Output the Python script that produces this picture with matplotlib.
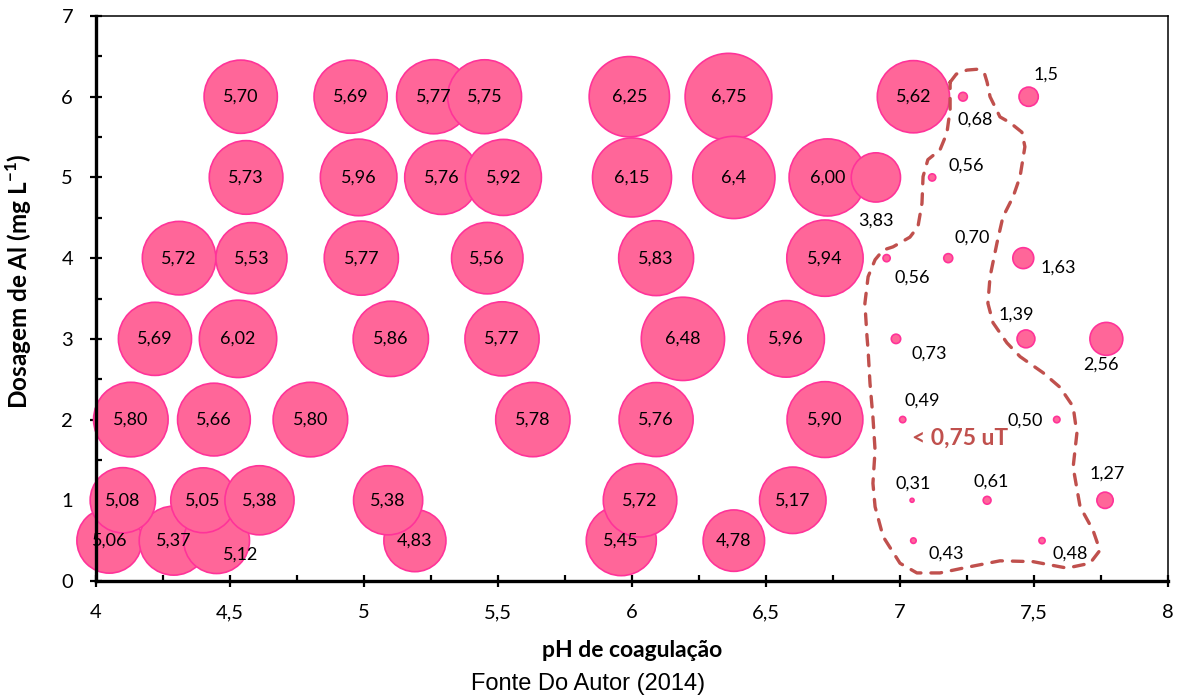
import matplotlib.pyplot as plt
from matplotlib.ticker import MultipleLocator, FuncFormatter

plt.rcParams['font.family'] = ['Lato', 'DejaVu Sans']
plt.rcParams['mathtext.fontset'] = 'custom'
plt.rcParams['mathtext.rm'] = 'Lato'
plt.rcParams['mathtext.bf'] = 'Lato:bold'

# pH de coagulação, dosagem de Al e turbidez remanescente (uT), por linha de dosagem
ph = [4.05, 4.29, 4.45, 5.19, 5.96, 6.38, 7.05, 7.53,
      4.10, 4.40, 4.61, 5.09, 6.03, 6.60, 7.045, 7.325, 7.765,
      4.13, 4.44, 4.80, 5.63, 6.09, 6.72, 7.01, 7.585,
      4.22, 4.53, 5.10, 5.515, 6.19, 6.575, 6.985, 7.47, 7.77,
      4.31, 4.58, 4.99, 5.46, 6.09, 6.72, 6.95, 7.18, 7.46,
      4.54, 4.95, 5.26, 5.45, 5.99, 6.36, 7.05, 7.235, 7.48,
      4.56, 4.98, 5.29, 5.52, 6.00, 6.38, 6.73, 6.91, 7.12]
dose = [0.5] * 8 + [1] * 9 + [2] * 8 + [3] * 9 + [4] * 9 + [6] * 9 + [5] * 9
turb = [5.06, 5.37, 5.12, 4.83, 5.45, 4.78, 0.43, 0.48,
        5.08, 5.05, 5.38, 5.38, 5.72, 5.17, 0.31, 0.61, 1.27,
        5.80, 5.66, 5.80, 5.78, 5.76, 5.90, 0.49, 0.50,
        5.69, 6.02, 5.86, 5.77, 6.48, 5.96, 0.73, 1.39, 2.56,
        5.72, 5.53, 5.77, 5.56, 5.83, 5.94, 0.56, 0.70, 1.63,
        5.70, 5.69, 5.77, 5.75, 6.25, 6.75, 5.62, 0.68, 1.5,
        5.73, 5.96, 5.76, 5.92, 6.15, 6.4, 6.00, 3.83, 0.56]
labels = ['5,06', '5,37', '5,12', '4,83', '5,45', '4,78', '0,43', '0,48',
          '5,08', '5,05', '5,38', '5,38', '5,72', '5,17', '0,31', '0,61', '1,27',
          '5,80', '5,66', '5,80', '5,78', '5,76', '5,90', '0,49', '0,50',
          '5,69', '6,02', '5,86', '5,77', '6,48', '5,96', '0,73', '1,39', '2,56',
          '5,72', '5,53', '5,77', '5,56', '5,83', '5,94', '0,56', '0,70', '1,63',
          '5,70', '5,69', '5,77', '5,75', '6,25', '6,75', '5,62', '0,68', '1,5',
          '5,73', '5,96', '5,76', '5,92', '6,15', '6,4', '6,00', '3,83', '0,56']

# contorno da região < 0,75 uT
outline_x = [7.187, 7.21, 7.25, 7.287, 7.315, 7.325, 7.336, 7.373, 7.410, 7.455, 7.466,
             7.448, 7.422, 7.384, 7.362, 7.336, 7.328, 7.347, 7.399, 7.448, 7.534,
             7.597, 7.646, 7.660, 7.646, 7.672, 7.720, 7.746, 7.709, 7.623, 7.496,
             7.373, 7.250, 7.149, 7.063, 7.000, 6.937, 6.907, 6.899, 6.907, 6.899,
             6.888, 6.881, 6.877, 6.869, 6.881, 6.907, 6.937, 6.974, 7.037, 7.067,
             7.082, 7.086, 7.104, 7.149, 7.175, 7.187, 7.187]
outline_y = [6.18, 6.28, 6.33, 6.34, 6.29, 6.18, 6.00, 5.75, 5.68, 5.56, 5.38,
             5.01, 4.76, 4.51, 4.19, 3.77, 3.44, 3.20, 2.95, 2.78, 2.58,
             2.40, 2.16, 1.83, 1.41, 0.92, 0.63, 0.38, 0.22, 0.16, 0.24,
             0.25, 0.17, 0.10, 0.10, 0.22, 0.55, 0.92, 1.21, 1.62, 2.03,
             2.45, 2.86, 3.02, 3.44, 3.77, 3.98, 4.10, 4.14, 4.26, 4.39,
             4.68, 5.01, 5.22, 5.34, 5.55, 5.84, 6.18]

# deslocamento dos rótulos (px, y para cima)
offsets = {2: (24, -14), 6: (33, -13), 7: (28, -13),
           14: (1, 17), 15: (4, 19), 16: (2, 27),
           23: (20, 19), 24: (-32, -1),
           31: (33, -15), 32: (-10, 24), 33: (-5, -26),
           40: (26, -19), 41: (24, 21), 42: (35, -9),
           50: (12, -23), 51: (17, 22),
           59: (0, -43), 60: (34, 12)}

fig = plt.figure(figsize=(11.84, 6.98), dpi=100)
ax = fig.add_axes([96 / 1184, 1 - 581 / 698, 1072 / 1184, 565 / 698])

sizes = [(0.72 * 12.85 * t) ** 2 for t in turb]
ax.scatter(ph, dose, s=sizes, c='#FF6699', edgecolors='#FF3399', linewidths=1.2,
           clip_on=False, zorder=2)

for i, lab in enumerate(labels):
    dx, dy = offsets.get(i, (0, 0))
    ax.annotate(lab, (ph[i], dose[i]), xytext=(dx * 0.72, dy * 0.72), textcoords='offset points',
                ha='center', va='center', fontsize=13, color='black', zorder=3)

ax.plot(outline_x, outline_y, color='#C0504D', lw=2.4, ls=(0, (3.2, 3.0)),
        dash_capstyle='round', solid_joinstyle='round', zorder=3)
ax.text(7.224, 1.685, '< 0,75 uT', color='#C0504D', fontsize=16.5, fontweight='bold',
        ha='center', va='baseline')

ax.set_xlim(4, 8)
ax.set_ylim(0, 7)
ax.xaxis.set_major_locator(MultipleLocator(0.5))
ax.xaxis.set_minor_locator(MultipleLocator(0.25))
ax.yaxis.set_major_locator(MultipleLocator(1))
ax.yaxis.set_minor_locator(MultipleLocator(0.5))
ax.xaxis.set_major_formatter(FuncFormatter(lambda v, p: f'{v:g}'.replace('.', ',')))
ax.yaxis.set_major_formatter(FuncFormatter(lambda v, p: f'{v:g}'))
ax.tick_params(which='major', direction='inout', length=9, width=1.6, labelsize=14.5, pad=12)
ax.tick_params(which='minor', direction='in', length=4, width=1.6)

for s in ['left', 'bottom']:
    ax.spines[s].set_linewidth(2.4)
for s in ['top', 'right']:
    ax.spines[s].set_linewidth(1.1)

ax.set_xlabel('pH de coagulação', fontsize=16.5, fontweight='bold')
ax.set_ylabel('Dosagem de Al (mg L$^{\\mathbf{-1}}$)', fontsize=17.5, fontweight='bold')
ax.xaxis.set_label_coords(0.5, -0.104)
ax.yaxis.set_label_coords(-0.058, 0.531)

fig.text(588 / 1184, 1 - 690 / 698, 'Fonte Do Autor (2014)', family='Liberation Sans',
         fontsize=17, ha='center', va='baseline')

plt.savefig('out.png', dpi=100)
